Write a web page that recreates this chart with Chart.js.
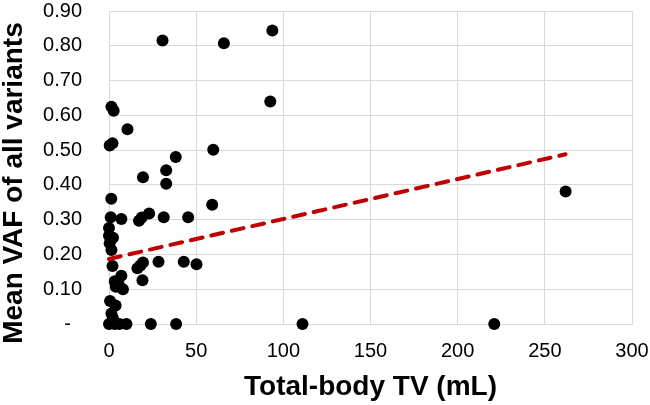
<!DOCTYPE html>
<html>
<head>
<meta charset="utf-8">
<title>Mean VAF vs total-body TV</title>
<script src="https://cdn.jsdelivr.net/npm/chart.js"></script>
<style>
  html, body { margin: 0; padding: 0; background: #fff; }
  canvas { display: block; }
</style>
</head>
<body>
<canvas id="vafChart" width="650" height="405"></canvas>
<script>
// total-body TV (mL) and mean VAF for each patient
const tvValues = [
  30.7, 93.7, 65.9, 92.5, 1.4, 2.7, 10.6, 0.4, 2.0, 59.8,
  38.3, 32.8, 19.5, 32.8, 1.3, 59.2, 261.9, 1.0, 7.1, 17.2,
  18.8, 23.0, 31.4, 45.4, 0.0, 0.0, 2.3, 0.4, 1.4, 2.0,
  16.3, 18.0, 19.5, 28.4, 42.9, 50.2, 19.2, 3.3, 7.1, 8.0,
  3.9, 5.5, 0.6, 3.8, 1.4, 2.3, 0.0, 3.3, 6.0, 10.0,
  24.0, 38.5, 111.0, 221.0
];
const vafValues = [
  0.815, 0.844, 0.807, 0.640, 0.625, 0.613, 0.560, 0.513, 0.520, 0.501,
  0.480, 0.442, 0.422, 0.403, 0.360, 0.343, 0.381, 0.307, 0.302, 0.297,
  0.306, 0.318, 0.307, 0.307, 0.276, 0.254, 0.248, 0.232, 0.213, 0.167,
  0.160, 0.168, 0.177, 0.179, 0.179, 0.172, 0.126, 0.123, 0.139, 0.100,
  0.107, 0.115, 0.066, 0.053, 0.030, 0.016, 0.000, 0.000, 0.000, 0.000,
  0.000, 0.000, 0.000, 0.000
];

// linear trendline end points
const trendTv = [0, 261.9];
const trendVaf = [0.187, 0.488];

const yTickLabels = ["-  ", "0.10", "0.20", "0.30", "0.40", "0.50", "0.60", "0.70", "0.80", "0.90"];

const points = tvValues.map((x, i) => ({ x: x, y: vafValues[i] }));
const trend = trendTv.map((x, i) => ({ x: x, y: trendVaf[i] }));

const gridColor = "#d9d9d9";
const tickFont = { family: "'Liberation Sans', Arial, sans-serif", size: 20 };
const titleFont = { family: "'Liberation Sans', Arial, sans-serif", size: 28, weight: "bold", lineHeight: 1 };

// fixed axis sizes, and no extra edge padding from the tick labels
function fixScale(size) {
  return (scale) => {
    if (scale.isHorizontal()) scale.height = size;
    else scale.width = size;
    scale.paddingTop = 0;
    scale.paddingBottom = 0;
    scale.paddingLeft = 0;
    scale.paddingRight = 0;
  };
}

new Chart(document.getElementById("vafChart"), {
  type: "scatter",
  data: {
    datasets: [
      {
        // trendline drawn on top of the dots
        type: "line",
        data: trend,
        borderColor: "#c00000",
        borderWidth: 4,
        borderDash: [12, 9],
        borderCapStyle: "round",
        pointRadius: 0,
        fill: false,
        clip: false,
        order: 0,
      },
      {
        data: points,
        backgroundColor: "#000",
        borderWidth: 0,
        pointRadius: 6,
        pointHoverRadius: 6,
        clip: false,
        order: 1,
      },
    ],
  },
  options: {
    responsive: false,
    animation: false,
    devicePixelRatio: 1,
    layout: { padding: { top: 11, right: 18, left: 0, bottom: 0 } },
    plugins: { legend: { display: false }, tooltip: { enabled: false } },
    scales: {
      x: {
        type: "linear",
        min: 0,
        max: 300,
        ticks: { stepSize: 50, color: "#000", font: tickFont, padding: 15, maxRotation: 0 },
        grid: { color: gridColor, drawTicks: false },
        border: { color: gridColor },
        title: { display: true, text: "Total-body TV (mL)", color: "#000", font: titleFont, padding: { top: 0, bottom: 4 } },
        afterFit: fixScale(81),
      },
      y: {
        min: 0,
        max: 0.9,
        ticks: {
          stepSize: 0.1,
          color: "#000",
          font: tickFont,
          padding: 27,
          callback: (value, index) => yTickLabels[index],
        },
        grid: { color: gridColor, drawTicks: false },
        border: { color: gridColor },
        title: { display: true, text: "Mean VAF of all variants    ", color: "#000", font: titleFont, padding: { top: 0, bottom: 0 } },
        afterFit: fixScale(109),
      },
    },
  },
});
</script>
</body>
</html>
